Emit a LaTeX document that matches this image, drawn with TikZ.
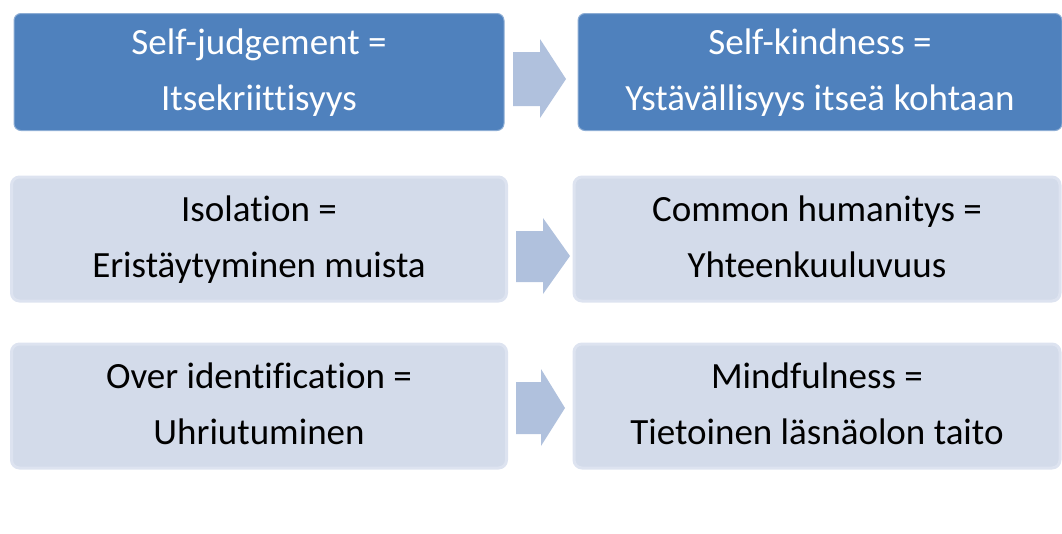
\documentclass[tikz,border=0pt]{standalone}
\usepackage{fontspec}
\setmainfont{Carlito}[Ligatures=NoCommon]
\usepackage{tikz}
\definecolor{darkbox}{RGB}{79,129,189}
\definecolor{lightbox}{RGB}{211,219,234}
\definecolor{lightedge}{RGB}{221,227,240}
\definecolor{arrowfill}{RGB}{176,193,221}
\usetikzlibrary{positioning}
\newcommand{\lineone}{\rule{0pt}{32pt}}
\newcommand{\linetwo}{\rule[-10.6pt]{0pt}{0pt}}
\tikzset{
  boxtext/.style={align=center, font=\fontsize{37}{56.5}\selectfont, inner sep=0pt},
  oldbox/.style={boxtext, draw=white!35!darkbox, line width=1pt, fill=darkbox, rounded corners=7pt, text=white},
  newbox/.style={boxtext, draw=lightedge, line width=3pt, fill=lightbox, rounded corners=8pt, text=black}
}

\begin{document}
\begin{tikzpicture}[line cap=round,line join=round,x=1pt,y=-1pt]
	\useasboundingbox (0,0) rectangle (1062,533);
	\node [oldbox, minimum width=490pt, minimum height=117pt] (judge) at (259,72) {\lineone Self-judgement =\\Itsekriittisyys\linetwo};
	\node [oldbox, minimum width=484pt, minimum height=117pt] (kind) at (820,72) {\lineone Self-kindness =\\Ystävällisyys itseä kohtaan\linetwo};
	\node [newbox, minimum width=495pt, minimum height=124pt] (isol) at (259,239) {\lineone Isolation =\\Eristäytyminen muista\linetwo};
	\node [newbox, minimum width=486pt, minimum height=124pt] (common) at (817,239) {\lineone Common humanitys =\\Yhteenkuuluvuus\linetwo};
	\node [newbox, minimum width=495pt, minimum height=124pt] (over) at (259,406) {\lineone Over identification =\\Uhriutuminen\linetwo};
	\node [newbox, minimum width=486pt, minimum height=124pt] (mind) at (817,406) {\lineone Mindfulness =\\Tietoinen läsnäolon taito\linetwo};
	\fill [arrowfill] (513,52) -- (540,52) -- (540,39) -- (566,79) -- (540,118) -- (540,106) -- (513,106) -- cycle;
	\fill [arrowfill] (516,231) -- (543,231) -- (543,218) -- (570,256) -- (543,294) -- (543,282) -- (516,282) -- cycle;
	\fill [arrowfill] (516,382) -- (541,382) -- (541,369) -- (565,408) -- (541,446) -- (541,434) -- (516,434) -- cycle;
\end{tikzpicture}
\end{document}
